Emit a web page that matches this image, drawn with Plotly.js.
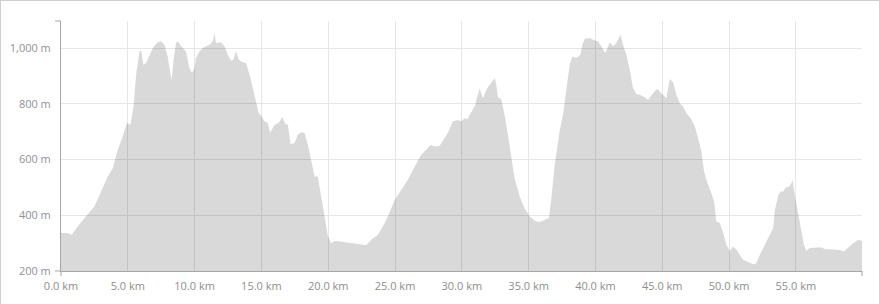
<!DOCTYPE html>
<html>
<head>
<meta charset="utf-8">
<script src="https://cdn.plot.ly/plotly-3.0.1.min.js"></script>
<style>
html,body{margin:0;padding:0;background:#fff;}
#chart{width:878px;height:303px;border-top:1px solid #cfcfcf;border-left:1px solid #cfcfcf;}
</style>
</head>
<body>
<div id="chart"></div>
<script>
// distance along route (km)
var distanceKm = [0, 0.5, 0.8, 1.25, 1.87, 2.5, 3.0, 3.5, 3.87, 4.25, 4.62, 4.94, 5.2, 5.44, 5.62, 5.87, 6.0, 6.17, 6.37, 6.62, 6.87, 7.24, 7.49, 7.74, 7.99, 8.16, 8.29, 8.44, 8.61, 8.74, 8.99, 9.36, 9.61, 9.81, 9.99,
  10.1, 10.36, 10.6, 10.86, 11.1, 11.36, 11.49, 11.6, 11.98, 12.24, 12.48, 12.73, 12.91, 13.1, 13.31, 13.55, 13.85, 14.15, 14.48, 14.8, 14.98, 15.23, 15.48, 15.65, 15.98, 16.28, 16.55, 16.8, 16.98, 17.18, 17.48, 17.73, 17.97, 18.23, 18.48, 18.72, 18.98, 19.22, 19.47, 19.73, 19.97,
  20.22, 20.47, 20.97, 21.47, 21.97, 22.47, 22.84, 23.22, 23.72, 24.09, 24.47, 24.97, 25.46, 25.96, 26.47, 26.96, 27.33, 27.67, 27.96, 28.34, 28.71, 29.01, 29.33, 29.71, 29.96,
  30.21, 30.45, 30.58, 30.96, 31.2, 31.33, 31.58, 31.83, 32.08, 32.46, 32.58, 32.7, 32.95, 33.2, 33.45, 33.7, 33.95, 34.33, 34.7, 35.08, 35.45, 35.78, 36.2, 36.52, 36.7, 36.95, 37.32, 37.57, 37.82, 38.07, 38.27, 38.57, 38.87, 39.02, 39.2, 39.57, 39.82, 40.19,
  40.44, 40.74, 41.07, 41.32, 41.56, 41.89, 42.06, 42.31, 42.57, 42.81, 43.06, 43.32, 43.69, 43.94, 44.31, 44.63, 44.93, 45.31, 45.56, 45.81, 46.06, 46.31, 46.56, 46.81, 47.13, 47.44, 47.68, 47.93, 48.13, 48.3, 48.63, 48.88, 49.05, 49.31, 49.56, 49.8, 50.06, 50.3,
  50.55, 50.81, 51.05, 51.43, 51.8, 52.05, 52.3, 52.68, 53.05, 53.3, 53.43, 53.68, 53.85, 54.05, 54.25, 54.5, 54.67, 54.75, 54.92, 55.17, 55.42, 55.6, 55.79, 55.99, 56.54, 56.92, 57.17, 57.79, 58.29, 58.59, 58.91, 59.29, 59.66, 59.95];
// elevation (m)
var elevationM = [336, 336, 330, 360, 396, 431, 485, 539, 569, 635, 683, 731, 725, 796, 904, 988, 990, 940, 946, 976, 1000, 1021, 1024, 1012, 970, 916, 886, 964, 1018, 1024, 1006, 988, 928, 910, 928,
  964, 988, 1000, 1006, 1012, 1024, 1054, 1018, 1021, 1006, 976, 954, 958, 990, 958, 950, 946, 898, 826, 766, 758, 737, 731, 695, 725, 731, 752, 727, 725, 655, 659, 689, 698, 695, 653, 593, 539, 539, 473, 401, 326,
  300, 308, 306, 301, 299, 296, 292, 312, 330, 360, 396, 455, 491, 527, 575, 617, 635, 653, 647, 649, 677, 701, 737, 742, 737,
  748, 745, 760, 790, 832, 856, 820, 850, 868, 892, 868, 823, 817, 760, 689, 617, 533, 467, 424, 396, 380, 375, 383, 390, 461, 581, 701, 760, 850, 940, 970, 964, 976, 1012, 1033, 1036, 1030, 1024,
  1006, 982, 1021, 1006, 1018, 1048, 1012, 976, 922, 856, 835, 832, 823, 814, 838, 854, 838, 820, 889, 877, 832, 802, 790, 766, 748, 719, 677, 629, 557, 527, 485, 450, 378, 372, 336, 294, 272, 288,
  276, 258, 240, 232, 224, 228, 258, 294, 330, 354, 419, 473, 485, 485, 500, 503, 515, 527, 473, 408, 348, 294, 272, 282, 284, 284, 279, 277, 275, 270, 284, 300, 312, 308];
var xTicks = [0, 5, 10, 15, 20, 25, 30, 35, 40, 45, 50, 55];
var xTickLabels = ['0.0 km', '5.0 km', '10.0 km', '15.0 km', '20.0 km', '25.0 km', '30.0 km', '35.0 km', '40.0 km', '45.0 km', '50.0 km', '55.0 km'];
var yTicks = [200, 400, 600, 800, 1000];
var yTickLabels = ['200 m', '400 m', '600 m', '800 m', '1,000 m'];

var trace = {
  x: distanceKm, y: elevationM, type: 'scatter', mode: 'lines',
  fill: 'tozeroy', fillcolor: 'rgba(0,0,0,0.15)',
  line: {width: 0, color: 'rgba(0,0,0,0)'}, hoverinfo: 'x+y'
};
var axisCol = '#a6a6a6';
var layout = {
  width: 878, height: 303,
  margin: {l: 60, r: 17, t: 20, b: 33, pad: 0},
  paper_bgcolor: '#ffffff', plot_bgcolor: '#ffffff',
  showlegend: false,
  font: {family: 'Open Sans, Segoe UI, sans-serif', size: 11, color: '#8e8e96'},
  xaxis: {
    range: [0, 59.95], tickmode: 'array', tickvals: xTicks, ticktext: xTickLabels,
    showgrid: true, gridcolor: '#e6e6e6', gridwidth: 1,
    showline: true, linecolor: axisCol, linewidth: 1, zeroline: false,
    ticks: '', ticklabelstandoff: 5, fixedrange: true,
    tickfont: {size: 11, color: '#8e8e8e'}
  },
  yaxis: {
    range: [200, 1097], tickmode: 'array', tickvals: yTicks, ticktext: yTickLabels,
    showgrid: true, gridcolor: '#e6e6e6', gridwidth: 1,
    showline: true, linecolor: axisCol, linewidth: 1, zeroline: false,
    ticks: '', ticklabelstandoff: 7, fixedrange: true,
    tickfont: {size: 11, color: '#8e929c'}
  },
  shapes: [
    {type: 'line', xref: 'paper', yref: 'paper', x0: 0, x1: -0.0075, y0: 0, y1: 0, line: {color: axisCol, width: 1}},
    {type: 'line', xref: 'paper', yref: 'paper', x0: 0, x1: -0.0075, y0: 1, y1: 1, line: {color: axisCol, width: 1}},
    {type: 'line', xref: 'paper', yref: 'paper', x0: 0, x1: 0, y0: 0, y1: -0.02, line: {color: axisCol, width: 1}},
    {type: 'line', xref: 'paper', yref: 'paper', x0: 1, x1: 1, y0: 0, y1: -0.02, line: {color: axisCol, width: 1}}
  ]
};
Plotly.newPlot('chart', [trace], layout, {displayModeBar: false, staticPlot: true});
</script>
</body>
</html>
